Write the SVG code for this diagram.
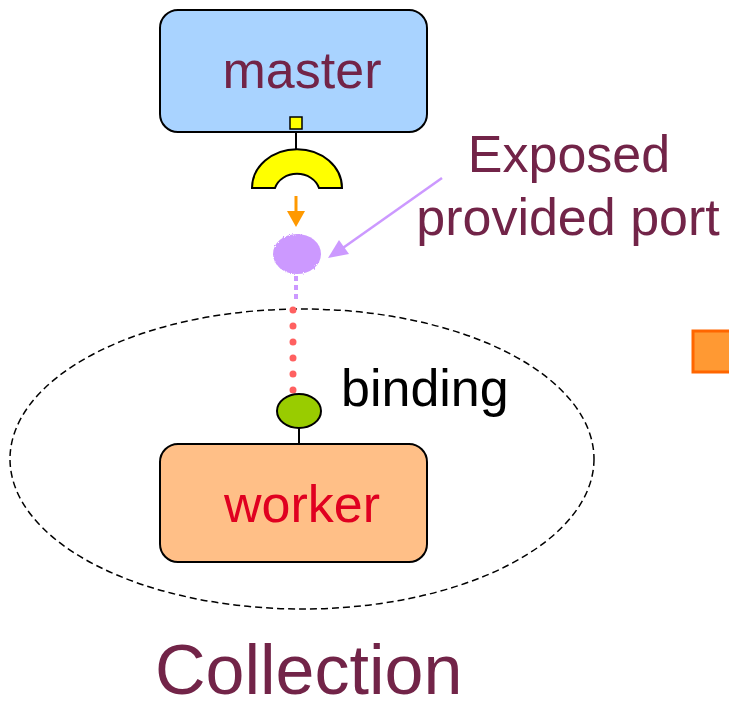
<svg xmlns="http://www.w3.org/2000/svg" width="729" height="702" viewBox="0 0 729 702">
<defs>
<style>
.box{stroke:#000;stroke-width:2}
.lbl{font-family:"Liberation Sans",Arial,sans-serif;text-anchor:middle}
.plum{fill:#722448}
</style>
<filter id="fuzz" x="-20%" y="-20%" width="140%" height="140%">
<feTurbulence type="fractalNoise" baseFrequency="0.9" numOctaves="1" result="n"/>
<feDisplacementMap in="SourceGraphic" in2="n" scale="3"/>
</filter>
</defs>
<rect width="729" height="702" fill="#fff"/>
<ellipse cx="302" cy="459" rx="292" ry="150" fill="none" stroke="#000" stroke-width="1.5" stroke-dasharray="7,4"/>
<g id="connectors">
<line x1="296" y1="129" x2="296" y2="152" stroke="#000" stroke-width="2"/>
<line x1="296" y1="196" x2="296" y2="212" stroke="#FF9900" stroke-width="3"/>
<polygon points="287,211 305,211 296,227" fill="#FF9900"/>
<line x1="296" y1="276" x2="296" y2="302" stroke="#CC99FF" stroke-width="4" stroke-dasharray="5,4"/>
<line x1="293" y1="310" x2="293" y2="392" stroke="#FF6060" stroke-width="7" stroke-linecap="round" stroke-dasharray="0,16"/>
<line x1="299" y1="428" x2="299" y2="444" stroke="#000" stroke-width="2"/>
<line x1="442" y1="178" x2="340" y2="250" stroke="#CC99FF" stroke-width="2.5"/>
<polygon points="328,258 339,240 349,254" fill="#CC99FF"/>
</g>
<g id="master">
<rect class="box" x="160" y="10" width="267" height="122" rx="18" fill="#A9D3FF"/>
<text class="lbl plum" x="302" y="88" font-size="52">master</text>
</g>
<g id="port-square">
<rect x="290" y="117" width="12" height="12" fill="#FFFF00" stroke="#000" stroke-width="1.5"/>
</g>
<g id="required-port">
<path d="M252,188 A44,38 0 0 1 342,188 L319,188 A23,20 0 0 0 275,188 Z" fill="#FFFF00" stroke="#000" stroke-width="2"/>
</g>
<g id="exposed-port">
<ellipse cx="297" cy="254" rx="24" ry="20" fill="#CC99FF" filter="url(#fuzz)"/>
</g>
<g id="exposed-label">
<text class="lbl plum" x="569" y="172" font-size="52">Exposed</text>
<text class="lbl plum" x="568" y="235" font-size="52">provided port</text>
</g>
<g id="binding-port">
<ellipse cx="299" cy="411" rx="22" ry="17" fill="#99CC00" stroke="#000" stroke-width="2"/>
<text x="341" y="406" font-family="'Liberation Sans',Arial,sans-serif" font-size="52" fill="#000">binding</text>
</g>
<g id="worker">
<rect class="box" x="160" y="444" width="267" height="118" rx="18" fill="#FFBF87"/>
<text class="lbl" x="302" y="522" font-size="52" fill="#E00020">worker</text>
</g>
<g id="orange-square">
<rect x="693" y="331" width="40" height="41" fill="#FF9933" stroke="#FF6600" stroke-width="3"/>
</g>
<g id="collection">
<text x="155" y="694" font-family="'Liberation Sans',Arial,sans-serif" font-size="70" class="plum">Collection</text>
</g>
</svg>
